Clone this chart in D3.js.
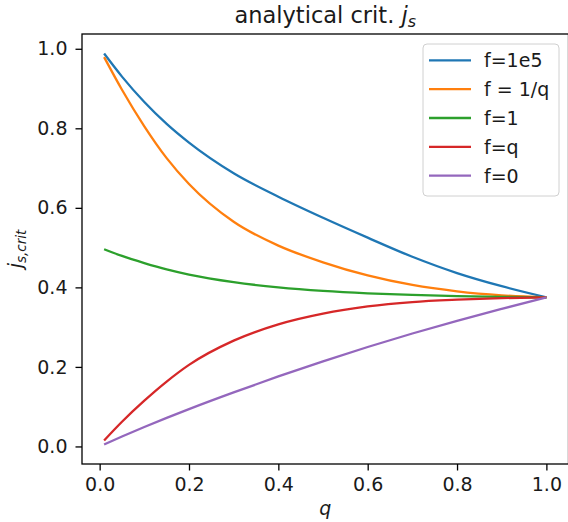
<!DOCTYPE html>
<html>
<head>
<meta charset="utf-8">
<script src="https://cdn.jsdelivr.net/npm/d3@7/dist/d3.min.js"></script>
<style>
  body {
    margin: 0;
    background: #ffffff;
  }

  text {
    font-family: 'DejaVu Sans', sans-serif;
    fill: #1a1a1a;
  }

  .axis line {
    stroke: #000000;
    stroke-width: 1.3px;
  }

  .axis text {
    font-size: 19px;
  }

  .spine {
    fill: none;
    stroke: #000000;
    stroke-width: 1.3px;
  }

  .data-line {
    fill: none;
    stroke-width: 2.3px;
    stroke-linejoin: round;
  }

  .legend-box {
    fill: #ffffff;
    fill-opacity: 0.8;
    stroke: #d0d0d0;
    stroke-width: 1px;
  }

  .legend text {
    font-size: 19px;
  }

  .math {
    font-style: italic;
  }
</style>
</head>
<body>
<svg width="568" height="522" id="SVG"></svg>
<script>
const qValues = [0.01, 0.05, 0.1, 0.15, 0.2, 0.3, 0.4, 0.5, 0.6, 0.7, 0.8, 0.9, 1.0];

// j_s,crit for each f
const fBig = [0.988, 0.930, 0.866, 0.811, 0.764, 0.687, 0.628, 0.575, 0.525, 0.477, 0.436, 0.403, 0.375];
const fInvQ = [0.979, 0.897, 0.805, 0.725, 0.660, 0.565, 0.505, 0.463, 0.430, 0.406, 0.390, 0.380, 0.375];
const fOne = [0.496, 0.479, 0.461, 0.445, 0.432, 0.413, 0.400, 0.391, 0.385, 0.381, 0.378, 0.376, 0.375];
const fQ = [0.015, 0.062, 0.115, 0.163, 0.205, 0.266, 0.307, 0.334, 0.352, 0.363, 0.369, 0.373, 0.375];
const fZero = [0.005, 0.025, 0.049, 0.072, 0.094, 0.136, 0.176, 0.214, 0.250, 0.284, 0.316, 0.346, 0.375];

const seriesNames = ['f=1e5', 'f = 1/q', 'f=1', 'f=q', 'f=0'];
const seriesColors = ['#1f77b4', '#ff7f0e', '#2ca02c', '#d62728', '#9467bd'];
const xTicks = [0.0, 0.2, 0.4, 0.6, 0.8, 1.0];
const yTicks = [0.0, 0.2, 0.4, 0.6, 0.8, 1.0];

const allSeries = [fBig, fInvQ, fOne, fQ, fZero];

const svg = d3.select('#SVG');
const margin = { top: 34, right: -0.5, bottom: 58, left: 82 };
const width = +svg.attr('width') - margin.left - margin.right;
const height = +svg.attr('height') - margin.top - margin.bottom;

// matplotlib style 5% padding round the data
const xMin = d3.min(qValues), xMax = d3.max(qValues);
const yMin = d3.min(allSeries.flat()), yMax = d3.max(allSeries.flat());
const xPad = (xMax - xMin) * 0.05;
const yPad = (yMax - yMin) * 0.05;

const x = d3.scaleLinear().domain([xMin - xPad, xMax + xPad]).range([0, width]);
const y = d3.scaleLinear().domain([yMin - yPad, yMax + yPad]).range([height, 0]);

const g = svg.append('g')
  .attr('transform', 'translate(' + margin.left + ',' + margin.top + ')');

// lines
const line = d3.line()
  .x((d) => x(d[0]))
  .y((d) => y(d[1]))
  .curve(d3.curveMonotoneX);

allSeries.forEach(function (vals, i) {
  g.append('path')
    .attr('class', 'data-line')
    .attr('stroke', seriesColors[i])
    .attr('d', line(qValues.map((q, k) => [q, vals[k]])));
});

// axes
const xAxis = g.append('g')
  .attr('class', 'axis')
  .attr('transform', 'translate(0,' + height + ')')
  .call(d3.axisBottom(x).tickValues(xTicks).tickFormat(d3.format('.1f')).tickSize(6.5).tickPadding(7));
xAxis.select('.domain').remove();

const yAxis = g.append('g')
  .attr('class', 'axis')
  .call(d3.axisLeft(y).tickValues(yTicks).tickFormat(d3.format('.1f')).tickSize(6.5).tickPadding(8));
yAxis.select('.domain').remove();

g.append('rect')
  .attr('class', 'spine')
  .attr('x', 0)
  .attr('y', 0)
  .attr('width', width)
  .attr('height', height);

// title
const title = svg.append('text')
  .attr('x', margin.left + width / 2)
  .attr('y', 22.5)
  .attr('text-anchor', 'middle')
  .style('font-size', '22.5px');
title.append('tspan').text('analytical crit. ');
title.append('tspan').attr('class', 'math').text('j');
title.append('tspan').attr('class', 'math').attr('dy', 4).style('font-size', '16px').text('s');

// axis labels
svg.append('text')
  .attr('class', 'math')
  .attr('x', margin.left + width / 2)
  .attr('y', 515)
  .attr('text-anchor', 'middle')
  .style('font-size', '19px')
  .text('q');

const yLabel = svg.append('text')
  .attr('transform', 'translate(22,' + (margin.top + height / 2) + ') rotate(-90)')
  .attr('text-anchor', 'middle')
  .style('font-size', '19px');
yLabel.append('tspan').attr('class', 'math').text('j');
yLabel.append('tspan').attr('class', 'math').attr('dy', 3.5).style('font-size', '13.5px').text('s,crit');

// legend
const legend = svg.append('g').attr('class', 'legend');
legend.append('rect')
  .attr('class', 'legend-box')
  .attr('x', 423)
  .attr('y', 44)
  .attr('width', 136)
  .attr('height', 152)
  .attr('rx', 4);

const legendRows = legend.selectAll('g.row')
  .data(seriesNames)
  .enter()
  .append('g')
  .attr('class', 'row')
  .attr('transform', (d, i) => 'translate(429,' + (60.3 + i * 28.85) + ')');

legendRows.append('line')
  .attr('x1', 0)
  .attr('x2', 42)
  .attr('stroke', (d, i) => seriesColors[i])
  .attr('stroke-width', 2.3);

legendRows.append('text')
  .attr('x', 55)
  .attr('dy', '0.36em')
  .text((d) => d);
</script>
</body>
</html>
